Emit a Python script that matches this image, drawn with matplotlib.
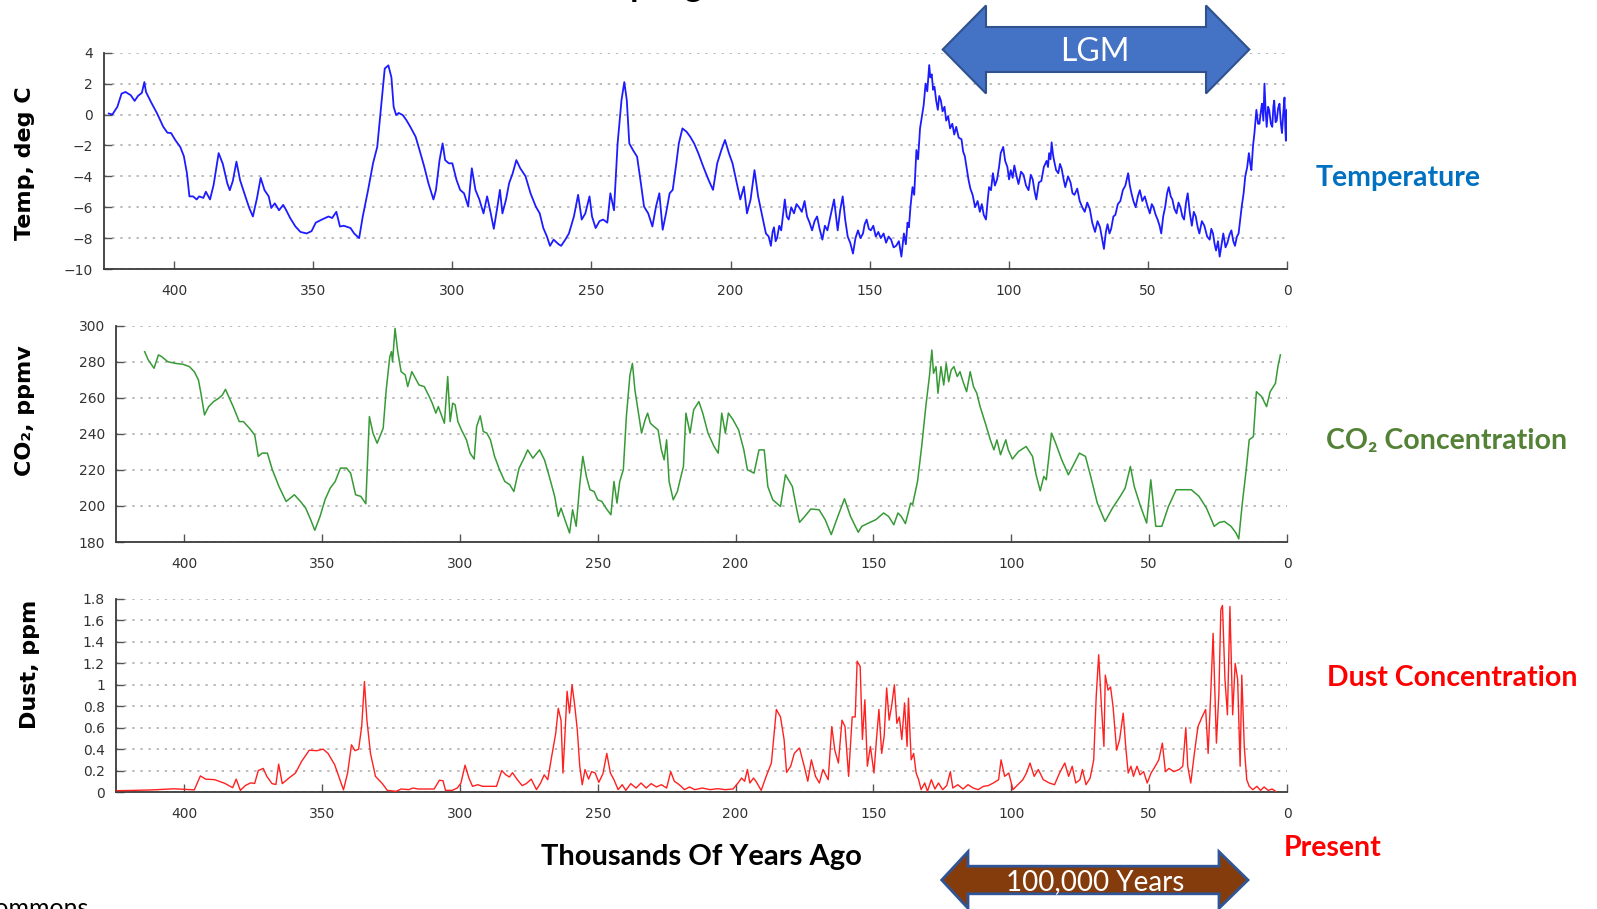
import matplotlib
matplotlib.use("Agg")
import matplotlib.pyplot as plt
from matplotlib.patches import Polygon

# ---------------------------------------------------------------- data
# Vostok ice core: temperature anomaly (deg C) versus age (thousands of years ago)
temp_age = [
    423.5, 422.2, 420.4, 418.9, 417.5, 415.6, 414.2, 413.0, 411.6, 410.7, 410.1, 408.3,
    406.1, 403.9, 402.4, 401.1, 399.6, 397.8, 396.5, 395.4, 394.5, 393.2, 391.9, 391.0,
    389.5, 388.6, 387.1, 385.8, 384.0, 382.5, 380.9, 380.0, 378.9, 377.6, 376.3, 374.4,
    373.0, 371.7, 370.2, 368.9, 367.5, 366.0, 365.1, 363.8, 362.3, 360.8, 359.7, 358.3,
    356.4, 354.6, 352.4, 350.6, 349.1, 346.9, 344.5, 343.2, 341.7, 340.4, 339.0, 336.6,
    335.3, 333.5, 332.2, 330.3, 328.5, 327.0, 325.6, 324.3, 323.0, 321.9, 321.1, 320.2,
    319.3, 317.8, 316.5, 315.1, 313.2, 311.8, 310.1, 308.6, 306.8, 305.9, 304.6, 303.5,
    302.6, 301.3, 300.0, 298.5, 297.2, 295.8, 294.3, 293.0, 291.7, 290.3, 288.8, 287.5,
    286.2, 285.1, 283.8, 282.9, 282.0, 280.7, 279.6, 278.3, 277.0, 275.6, 273.7, 271.9,
    270.0, 268.6, 267.3, 266.0, 264.9, 263.6, 261.8, 260.9, 259.4, 258.1, 256.3, 254.8,
    253.5, 252.2, 250.7, 249.8, 248.5, 247.1, 245.8, 244.3, 243.2, 241.9, 240.6, 239.2,
    238.2, 237.3, 236.4, 235.1, 233.6, 232.4, 231.1, 229.6, 228.1, 226.8, 225.6, 224.4,
    223.2, 221.9, 220.8, 219.5, 218.6, 217.3, 215.8, 214.5, 213.1, 211.6, 209.8, 207.9,
    206.3, 204.8, 203.3, 202.0, 200.6, 199.3, 198.0, 196.5, 195.2, 194.1, 192.8, 191.4,
    190.1, 188.8, 187.3,
    186.3, 185.5, 184.9, 184.4, 183.8, 183.3, 182.5, 181.8, 181.1, 180.5, 179.8, 179.1,
    178.2, 177.2, 176.3, 175.4, 174.4, 173.4, 172.5, 171.6, 170.7, 169.8, 168.9, 168.0,
    167.0, 166.1, 165.2, 164.0, 162.8, 162.1, 161.5, 160.6, 159.7, 158.8, 157.9, 157.0,
    156.0, 155.1, 154.2, 153.3, 152.4, 151.8, 151.1, 150.3, 149.6, 148.7, 147.8, 146.9,
    146.0, 145.0, 144.1, 143.2, 142.3, 141.4, 140.5, 139.5, 138.6,
    137.7, 137.0, 136.4, 135.9, 135.3, 134.6, 134.0, 133.2, 132.6, 131.9, 131.3, 130.6,
    129.9, 129.3, 128.6, 128.2, 127.7, 127.2, 126.7, 126.1, 125.5, 125.0, 124.4, 123.8,
    123.1, 122.5, 121.8, 121.1, 120.3, 119.6, 118.9, 118.0, 117.0, 116.4, 115.8, 115.2,
    114.5, 113.8, 113.0, 112.1, 111.2, 110.4, 109.7, 109.0, 108.2, 107.6, 107.1, 106.4,
    105.7, 105.0, 104.2, 103.5, 102.9, 102.0, 101.3, 100.5, 99.9, 99.3, 98.6, 98.0,
    97.2, 96.5, 95.6, 94.7, 93.8, 92.9, 92.1, 91.4, 90.7, 90.1, 89.2, 88.3,
    87.4, 86.4, 85.9, 85.5, 85.0, 84.6, 84.1, 83.7, 83.0, 82.2, 81.6, 81.0,
    80.3, 79.7, 78.7, 77.8, 77.1, 76.4, 75.4, 74.5, 73.6, 72.7, 71.8, 70.9,
    70.0, 69.0, 68.1, 67.2, 66.5, 65.8, 65.1, 64.5, 63.8, 63.2, 62.4, 61.7,
    60.8, 59.9, 59.0, 58.1, 57.6, 57.1, 56.5, 55.9, 55.2, 54.4, 53.6, 52.9,
    52.0, 51.1, 50.2, 49.3, 48.6, 48.0, 47.2, 46.5, 45.8, 45.2, 44.5, 43.8,
    43.1, 42.5, 41.8, 41.2, 40.5, 39.7, 39.0, 38.3, 37.6, 37.0, 36.3, 35.7,
    34.9, 34.2, 33.5, 32.8, 32.1, 31.5, 30.6, 29.7, 28.7, 27.8, 27.2, 26.6,
    26.0, 25.5, 24.8, 24.2, 23.5, 22.9, 22.1, 21.4, 20.7, 20.0, 19.3, 18.7,
    18.0, 17.4, 16.8, 16.3, 15.6, 15.0, 14.3, 13.7, 13.2, 12.8, 12.2, 11.7,
    11.3, 11.0, 10.4, 9.9, 9.4, 9.0, 8.5, 8.1, 7.7, 7.3, 6.8, 6.4,
    5.8, 5.3, 4.9, 4.6, 4.1, 3.7, 3.2, 2.7, 2.2, 1.8, 1.3, 0.9,
    0.6, 0.4, 0.2, 0.0,
]
temp_c = [
    0.06, 0.0, 0.5, 1.35, 1.46, 1.25, 0.88, 1.2, 1.4, 2.1, 1.45, 0.8,
    0.06, -0.8, -1.18, -1.2, -1.65, -2.1, -2.7, -3.8, -5.3, -5.3, -5.5, -5.3,
    -5.4, -5.0, -5.5, -4.55, -2.5, -3.2, -4.45, -4.9, -4.3, -3.05, -4.25, -5.3,
    -6.05, -6.6, -5.4, -4.1, -4.9, -5.3, -6.05, -5.75, -6.2, -5.85, -6.2, -6.7,
    -7.25, -7.6, -7.7, -7.55, -7.0, -6.8, -6.6, -6.7, -6.3, -7.25, -7.2, -7.35,
    -7.7, -8.0, -6.6, -4.9, -3.15, -2.1, 0.5, 2.97, 3.18, 2.4, 0.5, -0.04,
    0.1, -0.04, -0.37, -0.8, -1.44, -2.3, -3.38, -4.45, -5.5, -4.9, -2.95, -1.87,
    -2.95, -3.16, -3.16, -4.24, -4.88, -5.1, -5.96, -3.48, -4.88, -5.5, -6.4, -5.3,
    -6.4, -7.4, -5.96, -4.88, -6.4, -5.5, -4.45, -3.8, -2.95, -3.48, -4.0, -5.1,
    -5.96, -6.4, -7.35, -7.9, -8.5, -8.1, -8.4, -8.5, -8.1, -7.7, -6.6, -5.2,
    -6.8, -6.4, -5.3, -6.6, -7.35, -6.9, -6.8, -7.0, -5.1, -6.2, -1.87, 0.93,
    2.1, 0.93, -1.87, -2.3, -2.73, -4.24, -5.96, -6.4, -7.25, -5.96, -5.1, -7.46,
    -6.4, -5.1, -4.88, -3.16, -1.87, -0.9, -1.12, -1.44, -1.87, -2.5, -3.38, -4.24,
    -4.88, -3.16, -2.3, -1.65, -2.5, -3.16, -4.24, -5.5, -4.67, -6.4, -5.5, -3.6,
    -5.3, -6.4, -7.7,
    -7.9, -8.5, -7.6, -7.3, -8.2, -8.0, -7.2, -7.5, -6.4, -5.5, -6.6, -6.8,
    -6.0, -6.4, -5.8, -6.0, -6.3, -5.6, -6.6, -7.0, -7.5, -6.9, -6.6, -7.4,
    -8.1, -7.2, -7.5, -6.5, -5.5, -6.6, -7.5, -6.2, -5.3, -6.8, -7.9, -8.3,
    -9.0, -8.0, -7.5, -8.0, -7.7, -7.1, -6.8, -7.4, -7.5, -7.2, -7.9, -7.6,
    -8.0, -7.7, -8.3, -7.9, -8.1, -8.6, -8.5, -8.2, -9.2,
    -7.7, -8.4, -7.0, -7.3, -5.9, -4.7, -5.2, -2.3, -2.9, -0.9, -0.2, 0.6,
    2.0, 1.5, 3.2, 2.4, 2.6, 1.6, 1.8, 0.9, 0.3, 1.2, 0.9, 0.2,
    0.5, -0.4, -0.1, -0.9, -0.6, -1.3, -0.8, -1.5, -1.6, -2.4, -2.7, -3.4,
    -4.2, -4.8, -5.2, -6.0, -5.6, -6.3, -5.8, -6.5, -6.8, -5.6, -4.7, -4.9,
    -3.8, -4.6, -4.2, -3.4, -2.5, -2.1, -3.0, -3.4, -4.2, -3.6, -4.1, -3.3,
    -4.0, -4.5, -3.7, -3.9, -4.6, -4.9, -3.9, -4.2, -5.0, -5.5, -4.4, -4.3,
    -3.4, -3.0, -3.4, -2.5, -2.9, -1.8, -2.6, -3.0, -3.6, -3.8, -3.2, -3.5,
    -4.2, -4.7, -4.0, -4.4, -5.1, -5.2, -4.8, -5.6, -6.0, -6.3, -5.7, -6.1,
    -7.0, -7.6, -6.9, -7.3, -8.0, -8.7, -7.6, -7.1, -7.7, -7.4, -6.6, -6.5,
    -5.8, -5.6, -4.9, -4.6, -4.2, -3.8, -4.6, -5.1, -5.6, -6.0, -5.3, -4.9,
    -5.6, -5.3, -5.9, -6.4, -5.8, -6.0, -6.5, -6.8, -7.2, -7.7, -6.6, -6.0,
    -5.1, -4.7, -5.3, -5.5, -6.1, -6.4, -5.7, -6.0, -6.6, -6.8, -5.7, -5.1,
    -6.4, -7.2, -6.3, -6.6, -7.3, -7.7, -6.9, -7.2, -7.9, -8.1, -7.4, -7.7,
    -8.4, -8.8, -8.2, -9.2, -8.4, -7.7, -8.6, -8.3, -7.8, -7.5, -8.2, -8.5,
    -7.9, -7.7, -6.8, -6.0, -5.1, -4.0, -3.4, -2.5, -3.2, -3.6, -2.0, -1.2,
    -0.3, 0.3, -0.6, -0.6, 0.2, 0.7, -0.4, 2.0, 0.3, -0.8, 0.5, 0.3,
    -0.6, -0.8, 0.5, 0.9, -0.5, -0.4, 0.4, 0.7, -0.6, -1.2, 0.2, 1.1,
    -0.9, -1.7, 0.2, 0.3,
]

# Atmospheric CO2 (ppmv) versus age (thousands of years ago)
co2_age = [
    414.3, 413.0, 410.9, 409.3, 408.1, 405.9, 403.1, 400.4, 398.1, 396.3, 394.8, 393.9,
    392.6, 391.1, 389.3, 387.4, 386.1, 385.0, 384.1, 382.2, 380.0, 378.5, 376.3, 374.4,
    373.1, 371.7, 369.8, 368.0, 365.6, 363.0, 360.0, 357.8, 355.9, 354.1, 352.6, 350.7,
    348.9, 347.0, 345.2, 343.3, 341.1, 339.6, 337.8, 335.9, 334.1, 332.8, 331.5, 330.0,
    328.5, 327.8, 326.7, 325.4, 324.8, 324.4, 323.5, 322.6, 321.3, 319.8, 318.9, 317.4,
    316.1, 314.8, 312.9, 311.1, 310.0, 308.7, 307.8, 306.7, 305.6, 304.4, 303.5, 302.6,
    301.7, 300.7, 299.4, 297.6, 296.3, 294.8, 293.9, 292.6, 291.5, 290.2, 288.9, 287.4,
    285.6, 283.7, 281.9, 280.4, 278.5, 276.7, 275.4, 273.5, 271.1, 269.3, 267.4, 265.6,
    264.3, 263.3, 261.9, 260.2, 259.1, 257.8, 256.5, 255.4, 254.1, 252.8, 251.3, 250.0,
    248.5, 247.0, 245.2, 244.1, 243.0, 242.0, 240.7, 239.6, 238.3, 237.4, 236.5, 235.2,
    234.1, 232.8, 231.9, 230.9, 229.6, 228.1, 226.9, 225.9, 225.0, 224.1, 222.6, 221.1,
    219.8, 218.9, 218.0, 216.5, 215.2, 213.3, 211.9, 210.0, 207.8, 206.3, 205.0, 203.7,
    202.6, 200.9, 198.9, 197.0, 195.7, 193.3, 191.5, 189.6, 188.3, 186.5, 183.7, 181.9,
    179.4, 177.8,
    176.8, 174.9, 172.7, 169.7, 167.5, 165.3, 162.9, 160.5, 158.3, 155.5, 154.2, 151.8,
    149.1, 146.3, 144.5, 142.6, 141.1, 139.9, 138.4, 136.5, 135.8, 134.0, 132.5, 131.0,
    129.7, 128.8, 128.2, 127.3, 126.6, 125.5, 124.5, 123.6, 122.7, 121.8, 120.8, 119.6,
    118.6, 117.7, 116.2, 114.9, 113.7, 112.5, 111.3, 109.4, 107.6, 106.3, 105.2, 103.9,
    102.0, 101.1, 99.6, 97.4, 94.6, 92.3, 91.0, 89.5, 88.2, 87.3, 85.4, 83.9,
    81.7, 79.3, 77.1, 75.3, 73.1, 71.2, 68.8, 66.0, 63.3, 60.5, 58.7, 56.8,
    55.4, 53.1, 50.9, 49.4, 47.6, 45.4, 43.0, 40.2, 34.7, 31.9, 29.2, 26.4,
    24.5, 22.7, 20.3, 18.5, 17.5, 16.2, 14.8, 13.7, 12.2, 11.1, 9.2, 7.4,
    6.1, 4.2, 3.3, 2.4,
]
co2_ppmv = [
    285.6, 281, 276.4, 283.8, 282.8, 280, 279.1, 278.6, 277.3, 274.5, 269.9, 262.5,
    250.5, 255.1, 257.9, 259.8, 261.6, 264.7, 261.6, 255.1, 246.8, 246.8, 243.1, 239.4,
    227.5, 229.3, 229.3, 220.1, 210.8, 202.5, 206.2, 202.5, 198.8, 192.4, 186.5, 194.2,
    203.4, 209.9, 213.6, 221, 221, 218.2, 206.2, 205.3, 201.2, 249.6, 240.4, 234.8,
    240.4, 243.1, 264.4, 282.8, 285.6, 280, 298.5, 286.5, 274.5, 272.7, 266.2, 274.5,
    270.8, 267.1, 266.2, 260.7, 257, 251.5, 255.1, 250.5, 245.9, 271.8, 246.8, 257,
    256.1, 246.8, 242.2, 236.7, 229.3, 226, 244.1, 250, 241.3, 240.4, 236.7, 227.5,
    220.1, 213.6, 211.8, 208, 221, 226.5, 231.1, 226.5, 231.1, 225.6, 215.5, 205.3,
    194.2, 198.8, 192.4, 185, 197.9, 188.7, 211.8, 227.5, 216.4, 209, 208, 203.4,
    202.5, 198.8, 195.1, 213.6, 201.6, 213.6, 220.1, 249.6, 272.7, 279.1, 264.4, 251.5,
    240.4, 247.8, 251.5, 245.9, 244.1, 242.2, 231.1, 225.6, 236.7, 213.6, 203.4, 208,
    216.4, 221.9, 251.5, 240.4, 253.3, 257.9, 251.5, 240.4, 233, 229.3, 251.5, 240.4,
    251.5, 247.8, 242.2, 231.1, 220.1, 218.2, 231.1, 231.1, 210.8, 203.4, 199.7, 217.3,
    210.8, 198,
    190.9, 194.2, 198.3, 197.9, 192.4, 184.1, 194.2, 204, 194.2, 185.4, 188.7, 190.5,
    192.4, 196.1, 194.2, 189.6, 196.1, 194.2, 190.2, 201.6, 200.7, 213.6, 233, 255.1,
    271.8, 286.5, 273.6, 277.3, 262.5, 277.3, 267.1, 279.1, 268.9, 275.4, 277.3, 271.8,
    274.5, 269.9, 263.4, 274.5, 266.2, 262.5, 255.1, 245.9, 236.7, 231.1, 236.7, 228.4,
    236.7, 231.1, 226, 230.2, 233, 227.5, 217.3, 208.4, 216.4, 214.5, 240.4, 234.8,
    225.6, 217.3, 223.8, 229.3, 227.5, 216.4, 201.6, 191.4, 198.8, 205.3, 209.9, 221.9,
    210.8, 199.7, 190.5, 214.5, 188.7, 188.7, 199.7, 209, 209, 205.3, 198.8, 188.7,
    190.9, 191.4, 188.7, 185, 181.7, 201.6, 220.1, 236.7, 238.5, 263.4, 260.7, 255.1,
    263.4, 268, 277.3, 283.8,
]

# Dust concentration (ppm) versus age (thousands of years ago)
dust_age = [
    424.4, 418.5, 411.1, 403.7, 396.3, 394.1, 392.2, 388.9, 385.2, 382.4, 381.1, 379.6,
    377.8, 375.9, 374.4, 373.1, 371.3, 370.0, 368.1, 366.7, 365.7, 364.4, 362.0, 359.6,
    357.4, 354.6, 351.9, 349.6, 347.8, 345.4, 342.2, 340.7, 339.3, 338.0, 336.7, 335.6,
    334.6, 333.7, 332.4, 330.6, 328.1, 326.3, 323.1, 321.3, 318.5, 317.0, 315.2, 312.0,
    309.3, 307.4, 306.1, 305.2, 302.8, 300.9, 299.6, 298.1, 296.7, 295.4, 293.5, 291.7,
    288.9, 286.7, 284.8, 283.3, 282.0, 280.9, 279.3, 277.4, 275.9, 274.1, 272.2, 270.7,
    269.4, 268.1, 266.7, 265.2, 264.3, 263.3, 262.6, 261.9, 261.1, 260.2, 259.3, 258.3,
    257.4, 256.5, 255.6, 254.6, 253.3, 252.2, 250.9, 249.6, 248.1, 246.7, 245.4, 244.1,
    242.6, 241.1, 239.8, 238.0, 236.1, 234.3, 232.4, 230.6, 228.7, 226.9, 225.0, 223.5,
    222.2, 220.4, 218.5, 216.7, 214.8, 212.0, 209.3, 206.5, 203.7, 200.9, 199.1, 197.8,
    196.7, 195.7, 194.8, 193.5, 192.6, 190.7, 188.9, 187.0, 185.2, 183.7, 182.4, 181.5,
    180.0, 178.7, 176.9,
    176.6, 175.1, 173.8, 172.5, 171.0, 169.6, 168.3, 166.4, 165.1, 164.0, 162.7, 161.4,
    160.3, 159.0, 157.7, 156.6, 155.9, 154.8, 154.0, 153.1, 152.2, 151.1, 149.8, 148.9,
    148.0, 147.0, 146.1, 145.2, 144.3, 143.4, 142.4, 141.5, 140.6, 139.7, 138.7, 137.8,
    137.3, 136.3, 135.4, 134.5, 133.6, 132.7, 131.4, 130.4, 129.0, 127.7, 126.4, 124.9,
    123.4, 122.1, 121.2, 119.4, 117.5, 115.7, 113.8, 112.0, 110.1, 108.3, 106.5, 104.6,
    103.7, 102.4, 100.9, 99.4, 97.6, 95.8, 94.5, 93.2, 91.7, 90.2, 88.4, 86.2,
    84.3, 82.5, 80.6, 79.2, 77.9, 76.6, 75.1, 74.2, 72.9, 71.4, 70.1, 69.2,
    68.3, 67.3, 66.4, 65.9, 64.9, 64.0, 63.1, 61.8, 60.7, 59.4, 58.5, 57.6,
    56.6, 55.7, 54.4, 53.3, 52.0, 50.7, 49.3, 47.8, 46.5, 45.2, 44.1, 42.8,
    41.0, 39.1, 37.8, 36.7, 36.0, 34.9, 33.6, 32.3, 30.8, 29.5, 28.6, 27.7,
    26.8, 25.6, 24.7, 24.0, 23.4, 22.5, 21.6, 20.7, 19.7, 18.8, 17.9, 17.0,
    16.4, 15.5, 14.6, 13.7, 12.4, 10.9, 9.6, 8.3, 6.8, 5.4, 4.1,
]
dust_ppm = [
    0.012, 0.015, 0.02, 0.03, 0.02, 0.15, 0.12, 0.115, 0.08, 0.04, 0.12, 0.015,
    0.06, 0.085, 0.08, 0.2, 0.22, 0.146, 0.078, 0.07, 0.26, 0.078, 0.13, 0.177,
    0.285, 0.39, 0.385, 0.4, 0.36, 0.255, 0.02, 0.177, 0.44, 0.385, 0.4, 0.61,
    1.03, 0.67, 0.36, 0.146, 0.078, 0.015, 0.006, 0.028, 0.022, 0.037, 0.028, 0.028,
    0.028, 0.11, 0.105, 0.015, 0.015, 0.037, 0.084, 0.25, 0.13, 0.053, 0.068, 0.053,
    0.053, 0.053, 0.2, 0.16, 0.14, 0.18, 0.12, 0.06, 0.078, 0.12, 0.022, 0.084,
    0.16, 0.115, 0.33, 0.55, 0.78, 0.67, 0.177, 0.52, 0.94, 0.735, 1.0, 0.8,
    0.58, 0.24, 0.068, 0.21, 0.12, 0.19, 0.177, 0.09, 0.17, 0.36, 0.177, 0.115,
    0.022, 0.068, 0.015, 0.078, 0.037, 0.084, 0.037, 0.078, 0.047, 0.068, 0.037, 0.19,
    0.1, 0.068, 0.022, 0.047, 0.022, 0.037, 0.022, 0.031, 0.022, 0.028, 0.084, 0.13,
    0.1, 0.21, 0.084, 0.13, 0.1, 0.015, 0.146, 0.27, 0.77, 0.7, 0.49, 0.183,
    0.24, 0.36, 0.41,
    0.39, 0.24, 0.1, 0.3, 0.146, 0.084, 0.21, 0.115, 0.61, 0.39, 0.27, 0.67,
    0.61, 0.146, 0.7, 0.7, 1.22, 1.17, 0.49, 0.86, 0.24, 0.425, 0.177, 0.49,
    0.77, 0.36, 0.52, 0.97, 0.67, 0.8, 1.0, 0.64, 0.7, 0.49, 0.83, 0.425,
    0.875, 0.3, 0.36, 0.177, 0.115, 0.022, 0.084, 0.006, 0.115, 0.028, 0.084, 0.022,
    0.06, 0.19, 0.037, 0.068, 0.028, 0.068, 0.037, 0.022, 0.053, 0.06, 0.084, 0.115,
    0.3, 0.146, 0.177, 0.022, 0.068, 0.115, 0.177, 0.27, 0.146, 0.21, 0.115, 0.084,
    0.068, 0.177, 0.27, 0.146, 0.24, 0.084, 0.115, 0.21, 0.068, 0.13, 0.3, 0.89,
    1.28, 0.8, 0.425, 1.09, 0.95, 0.98, 0.8, 0.39, 0.49, 0.735, 0.425, 0.177,
    0.24, 0.146, 0.24, 0.16, 0.19, 0.084, 0.177, 0.24, 0.3, 0.456, 0.19, 0.22,
    0.19, 0.21, 0.24, 0.6, 0.24, 0.084, 0.36, 0.61, 0.7, 0.77, 0.36, 0.89,
    1.48, 0.456, 0.92, 1.7, 1.74, 1.05, 0.72, 1.73, 0.72, 1.2, 1.05, 0.24,
    1.09, 0.425, 0.115, 0.053, 0.022, 0.053, 0.015, 0.047, 0.015, 0.028, 0.006,
]

age_ticks = [400, 350, 300, 250, 200, 150, 100, 50, 0]
temp_ticks = [-10, -8, -6, -4, -2, 0, 2, 4]
co2_ticks = [180, 200, 220, 240, 260, 280, 300]
dust_ticks = [0, 0.2, 0.4, 0.6, 0.8, 1.0, 1.2, 1.4, 1.6, 1.8]
dust_tick_labels = ["0", "0.2", "0.4", "0.6", "0.8", "1", "1.2", "1.4", "1.6", "1.8"]

# ---------------------------------------------------------------- figure
W, H = 1597, 909
fig = plt.figure(figsize=(W / 100, H / 100), dpi=100)
fig.patch.set_facecolor("white")


def panel(left, right, top, bottom):
    """Axes placed by pixel edges (y measured from the top of the figure)."""
    return fig.add_axes([left / W, 1 - bottom / H, (right - left) / W, (bottom - top) / H])


def style(ax, xlim, ylim, yticks, ylabels=None):
    ax.set_xlim(*xlim)
    ax.set_ylim(*ylim)
    ax.set_xticks(age_ticks)
    ax.set_yticks(yticks)
    if ylabels is not None:
        ax.set_yticklabels(ylabels)
    for side in ("top", "right"):
        ax.spines[side].set_visible(False)
    for side in ("left", "bottom"):
        ax.spines[side].set_color("#3a3a3a")
        ax.spines[side].set_linewidth(1.3)
    ax.tick_params(direction="in", length=6, width=1.0, color="#555555",
                   labelsize=10, labelcolor="#333333", pad=8)
    ax.tick_params(axis="x", pad=10.5)
    ax.grid(axis="y", color="#b5b5b5", linestyle=(0, (1.3, 3.2)), linewidth=1.3)
    ax.grid(axis="x", visible=False)
    ax.set_axisbelow(True)
    ax.patch.set_alpha(0)


ax_t = panel(104.3, 1287, 52.7, 269)
ax_t.plot(temp_age, temp_c, color="#1c1cff", lw=1.3, zorder=3)
style(ax_t, (425.1, 0), (-10, 4), temp_ticks)

ax_c = panel(116, 1287, 325.7, 542)
ax_c.plot(co2_age, co2_ppmv, color="#379a37", lw=1.1, zorder=3)
style(ax_c, (424.7, 0), (180, 300), co2_ticks)

ax_d = panel(116, 1287, 599, 792)
ax_d.plot(dust_age, dust_ppm, color="#ff2020", lw=1.0, zorder=3)
style(ax_d, (424.7, 0), (0, 1.8), dust_ticks, dust_tick_labels)

# ---------------------------------------------------------------- annotations (pixel space)
ov = fig.add_axes([0, 0, 1, 1], zorder=10)
ov.set_xlim(0, W)
ov.set_ylim(H, 0)
ov.axis("off")
ov.patch.set_alpha(0)

LAT = ["Lato", "DejaVu Sans"]
DJV = ["DejaVu Sans"]

# title (runs off the top edge)
ov.text(703, -3, "Vostok Ice Core Sampling", ha="right", va="baseline",
        fontsize=24, fontweight="bold", family=LAT, color="black")
# source credit (runs off the bottom edge)
ov.text(88, 916, "Wikimedia Commons", ha="right", va="baseline",
        fontsize=18, family=LAT, color="black")

# vertical axis titles
ov.text(25, 163, "Temp, deg C", rotation=90, ha="center", va="center",
        fontsize=16, fontweight="bold", family=DJV, color="black")
ov.text(25, 411, "CO\u2082, ppmv", rotation=90, ha="center", va="center",
        fontsize=16, fontweight="bold", family=DJV, color="black")
ov.text(30, 664, "Dust, ppm", rotation=90, ha="center", va="center",
        fontsize=16, fontweight="bold", family=DJV, color="black")

# series names on the right
ov.text(1316, 178, "Temperature", ha="left", va="center",
        fontsize=20.5, fontweight="bold", family=LAT, color="#0070C0")
ov.text(1326, 441, "CO\u2082 Concentration", ha="left", va="center",
        fontsize=20.5, fontweight="bold", family=LAT, color="#538135")
ov.text(1327, 678, "Dust Concentration", ha="left", va="center",
        fontsize=20.5, fontweight="bold", family=LAT, color="#FF0000")
ov.text(1284, 848, "Present", ha="left", va="center",
        fontsize=20.5, fontweight="bold", family=LAT, color="#FF0000")
ov.text(701, 857, "Thousands Of Years Ago", ha="center", va="center",
        fontsize=21, fontweight="bold", family=LAT, color="black")


def double_arrow(x0, x1, yc, head_l, head_r, half_shaft, half_head, face, edge, lw):
    pts = [
        (x0, yc), (x0 + head_l, yc - half_head), (x0 + head_l, yc - half_shaft),
        (x1 - head_r, yc - half_shaft), (x1 - head_r, yc - half_head), (x1, yc),
        (x1 - head_r, yc + half_head), (x1 - head_r, yc + half_shaft),
        (x0 + head_l, yc + half_shaft), (x0 + head_l, yc + half_head),
    ]
    ov.add_patch(Polygon(pts, closed=True, facecolor=face, edgecolor=edge,
                         linewidth=lw, joinstyle="miter"))


# LGM span arrow
double_arrow(942.7, 1249.3, 49.5, 43.3, 43.3, 22.5, 44, "#4472C4", "#2F528F", 1.5)
ov.text(1095, 52, "LGM", ha="center", va="center", fontsize=23,
        family=LAT, color="white")

# 100,000-year span arrow
double_arrow(941.7, 1248, 880, 26.3, 29, 13.8, 28.3, "#843C0C", "#2F5597", 2.0)
ov.text(1095, 882, "100,000 Years", ha="center", va="center", fontsize=20,
        family=LAT, color="white")

fig.savefig("out.png", dpi=100, facecolor="white")
